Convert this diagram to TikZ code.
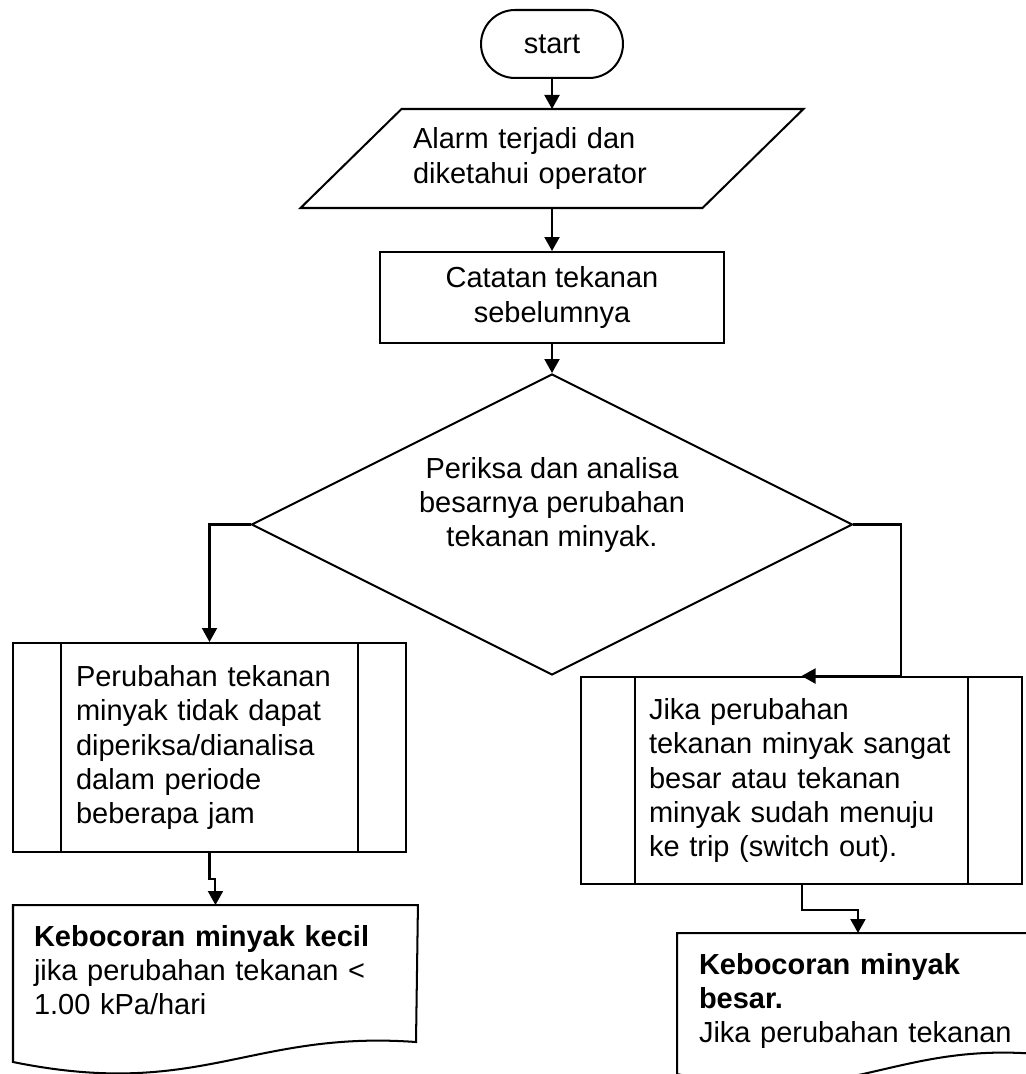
\documentclass[tikz,border=0pt]{standalone}
\usepackage{fontspec}
\setmainfont{Liberation Sans}
\usetikzlibrary{arrows.meta,shapes.geometric}
\newcommand{\flowfont}{\fontsize{16.5pt}{19.4pt}\selectfont}
\begin{document}
\begin{tikzpicture}[x=0.02cm,y=-0.02cm,font=\flowfont,line width=1.15pt,
  >={Triangle[length=0.28cm,width=0.3cm]},
  box/.style={draw,rectangle,inner sep=0pt},
  termbox/.style={box,rounded corners=0.68cm,minimum width=2.84cm,minimum height=1.36cm},
  procbox/.style={box,align=center,minimum width=6.88cm,minimum height=1.82cm},
  decbox/.style={draw,diamond,inner sep=0pt,minimum width=12.02cm,minimum height=6.02cm},
  subbox/.style={box,align=left,path picture={
    \draw[line width=1.15pt] ([xshift=#1]path picture bounding box.north west) -- ([xshift=#1]path picture bounding box.south west)
      ([xshift=-#1]path picture bounding box.north east) -- ([xshift=-#1]path picture bounding box.south east);}},
  docbox/.style={rectangle,anchor=north west,align=left,inner xsep=0.4cm,inner ysep=0.38cm}]
  \useasboundingbox (0,0) rectangle (1026,1074);
  \clip (0,0) rectangle (1026,1074);

  \node[termbox] (start) at (552,44) {start};
  \node[rectangle,inner sep=0pt,minimum width=8cm,minimum height=1.94cm,text width=5.56cm,align=left]
    (inp) at (552,158.5) {Alarm terjadi dan\\diketahui operator};
  \draw ([xshift=-1.01cm]inp.south west) -- ([xshift=1.01cm]inp.north west)
    -- ([xshift=1.01cm]inp.north east) -- ([xshift=-1.01cm]inp.south east) -- cycle;
  \node[procbox] (proc) at (552,297.5) {Catatan tekanan\\sebelumnya};
  \node[decbox] (dec) at (552,524.5) {};
  \node[align=center] (dectext) at ([yshift=0.39cm]dec.center)
    {Periksa dan analisa\\besarnya perubahan\\tekanan minyak.};
  \node[subbox=0.96cm,minimum width=7.86cm,minimum height=4.18cm,text width=5.34cm] (sub1) at (209.5,747.5)
    {Perubahan tekanan\\minyak tidak dapat\\diperiksa/dianalisa\\dalam periode\\beberapa jam};
  \node[subbox=1.07cm,minimum width=8.82cm,minimum height=4.14cm,text width=6.1cm] (sub2) at (801.5,780.5)
    {Jika perubahan\\tekanan minyak sangat\\besar atau tekanan\\minyak sudah menuju\\ke trip (switch out).};

  % documents, partly outside the page
  \node[docbox,text width=7.26cm] (doc1) at (13,905)
    {\textbf{Kebocoran minyak kecil}\\jika perubahan tekanan <\\1.00 kPa/hari};
  \draw (doc1.north west) -- (doc1.north east) -- (416,1042)
    .. controls (250,1030) and (200,1100) .. (13,1062) -- cycle;
  \node[docbox,text width=6.36cm,inner xsep=0.42cm] (doc2) at (677,933)
    {\textbf{Kebocoran minyak}\\\textbf{besar.}\\Jika perubahan tekanan};
  \draw (doc2.north west) -- (doc2.north east) -- (1037,1054)
    .. controls (889,1042) and (844,1112) .. (677,1074) -- cycle;

  \coordinate (rbend) at (901,524.5);
  \draw[->] (start.south) -- (inp.north);
  \draw[->] (inp.south) -- (proc.north);
  \draw[->] (proc.south) -- (dec.north);
  \draw[->] (dec.west) -| (sub1.north);
  \draw[->] (dec.east) -- (rbend) |- (sub2.north);
  \draw[->] (sub1.south) -- ++(0,26) -| (doc1.north);
  \draw[->] (sub2.south) -- ++(0,25) -| (doc2.north);
\end{tikzpicture}
\end{document}
